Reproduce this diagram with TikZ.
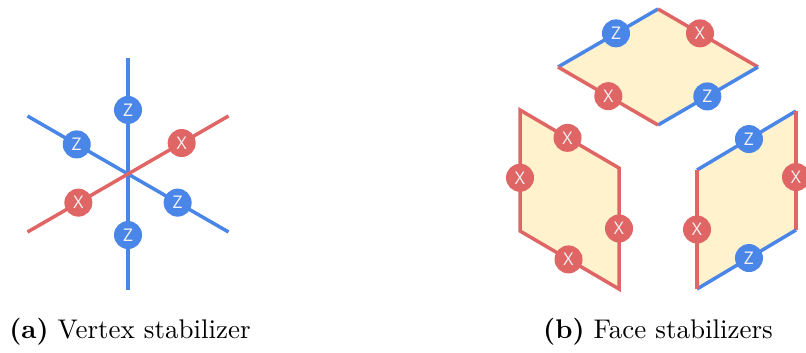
\documentclass[tikz,border=0pt]{standalone}
\usepackage{fontspec}
\newfontfamily\qfont{Open Sans}
\definecolor{qblue}{HTML}{4A86E8}
\definecolor{qred}{HTML}{E06666}
\definecolor{qface}{HTML}{FFF2CC}
\definecolor{qtext}{HTML}{F3F3F3}
\begin{document}
\begin{tikzpicture}[x=0.4pt,y=-0.4pt,
 zline/.style={draw=qblue,line width=1.4pt},
 xline/.style={draw=qred,line width=1.4pt},
 qubit/.style={circle,inner sep=0pt,minimum size=11.2pt,text=qtext,font=\qfont\fontsize{7}{7}\selectfont},
 zq/.style={qubit,fill=qblue},
 xq/.style={qubit,fill=qred},
 face/.style={fill=qface},
 captext/.style={anchor=base,font=\fontsize{10.8}{13}\selectfont}]
\useasboundingbox (0,0) rectangle (806,353);
% vertex stabilizer
\coordinate (vn) at (128,58);
\coordinate (vs) at (128,290);
\coordinate (vnw) at (27.5,116);
\coordinate (vse) at (228.5,232);
\coordinate (vsw) at (27.5,232);
\coordinate (vne) at (228.5,116);
\draw[zline] (vn) -- (vs);
\draw[zline] (vnw) -- (vse);
\draw[xline] (vsw) -- (vne);
\path (vn) -- (vs) node[zq,pos=0.224] (vz1) {Z} node[zq,pos=0.763] (vz2) {Z};
\path (vnw) -- (vse) node[zq,pos=0.245] (vz3) {Z} node[zq,pos=0.747] (vz4) {Z};
\path (vsw) -- (vne) node[xq,pos=0.253] (vx1) {X} node[xq,pos=0.767] (vx2) {X};
% top face
\coordinate (tl) at (558,67);
\coordinate (tt) at (658,9);
\coordinate (tr) at (758,67);
\coordinate (tb) at (658,125);
\fill[face] (tl) -- (tt) -- (tr) -- (tb) -- cycle;
\draw[zline] (tl) -- (tt);
\draw[xline] (tt) -- (tr);
\draw[zline] (tr) -- (tb);
\draw[xline] (tb) -- (tl);
\path (tl) -- (tt) node[zq,pos=0.58] (tz1) {Z};
\path (tt) -- (tr) node[xq,pos=0.42] (tx1) {X};
\path (tr) -- (tb) node[zq,pos=0.507] (tz2) {Z};
\path (tb) -- (tl) node[xq,pos=0.497] (tx2) {X};
% left face
\coordinate (ltl) at (520,110);
\coordinate (ltr) at (619,168);
\coordinate (lbr) at (619,289);
\coordinate (lbl) at (520,231);
\filldraw[face,xline] (ltl) -- (ltr) -- (lbr) -- (lbl) -- cycle;
\path (ltl) -- (ltr) node[xq,pos=0.48] (lx1) {X};
\path (ltr) -- (lbr) node[xq,pos=0.5] (lx2) {X};
\path (lbl) -- (lbr) node[xq,pos=0.49] (lx3) {X};
\path (ltl) -- (lbl) node[xq,pos=0.56] (lx4) {X};
% right face
\coordinate (rtl) at (697,170);
\coordinate (rtr) at (796,111);
\coordinate (rbr) at (796,230);
\coordinate (rbl) at (697,289);
\fill[face] (rtl) -- (rtr) -- (rbr) -- (rbl) -- cycle;
\draw[zline] (rtl) -- (rtr);
\draw[xline] (rtr) -- (rbr);
\draw[zline] (rbr) -- (rbl);
\draw[xline] (rbl) -- (rtl);
\path (rtl) -- (rtr) node[zq,pos=0.525] (rz1) {Z};
\path (rtr) -- (rbr) node[xq,pos=0.555] (rx1) {X};
\path (rbl) -- (rbr) node[zq,pos=0.525] (rz2) {Z};
\path (rtl) -- (rbl) node[xq,pos=0.5] (rx2) {X};
% captions
\node[captext] (capa) at (130,338) {\textbf{(a)} Vertex stabilizer};
\node[captext] (capb) at (658,338) {\textbf{(b)} Face stabilizers};
\end{tikzpicture}
\end{document}
